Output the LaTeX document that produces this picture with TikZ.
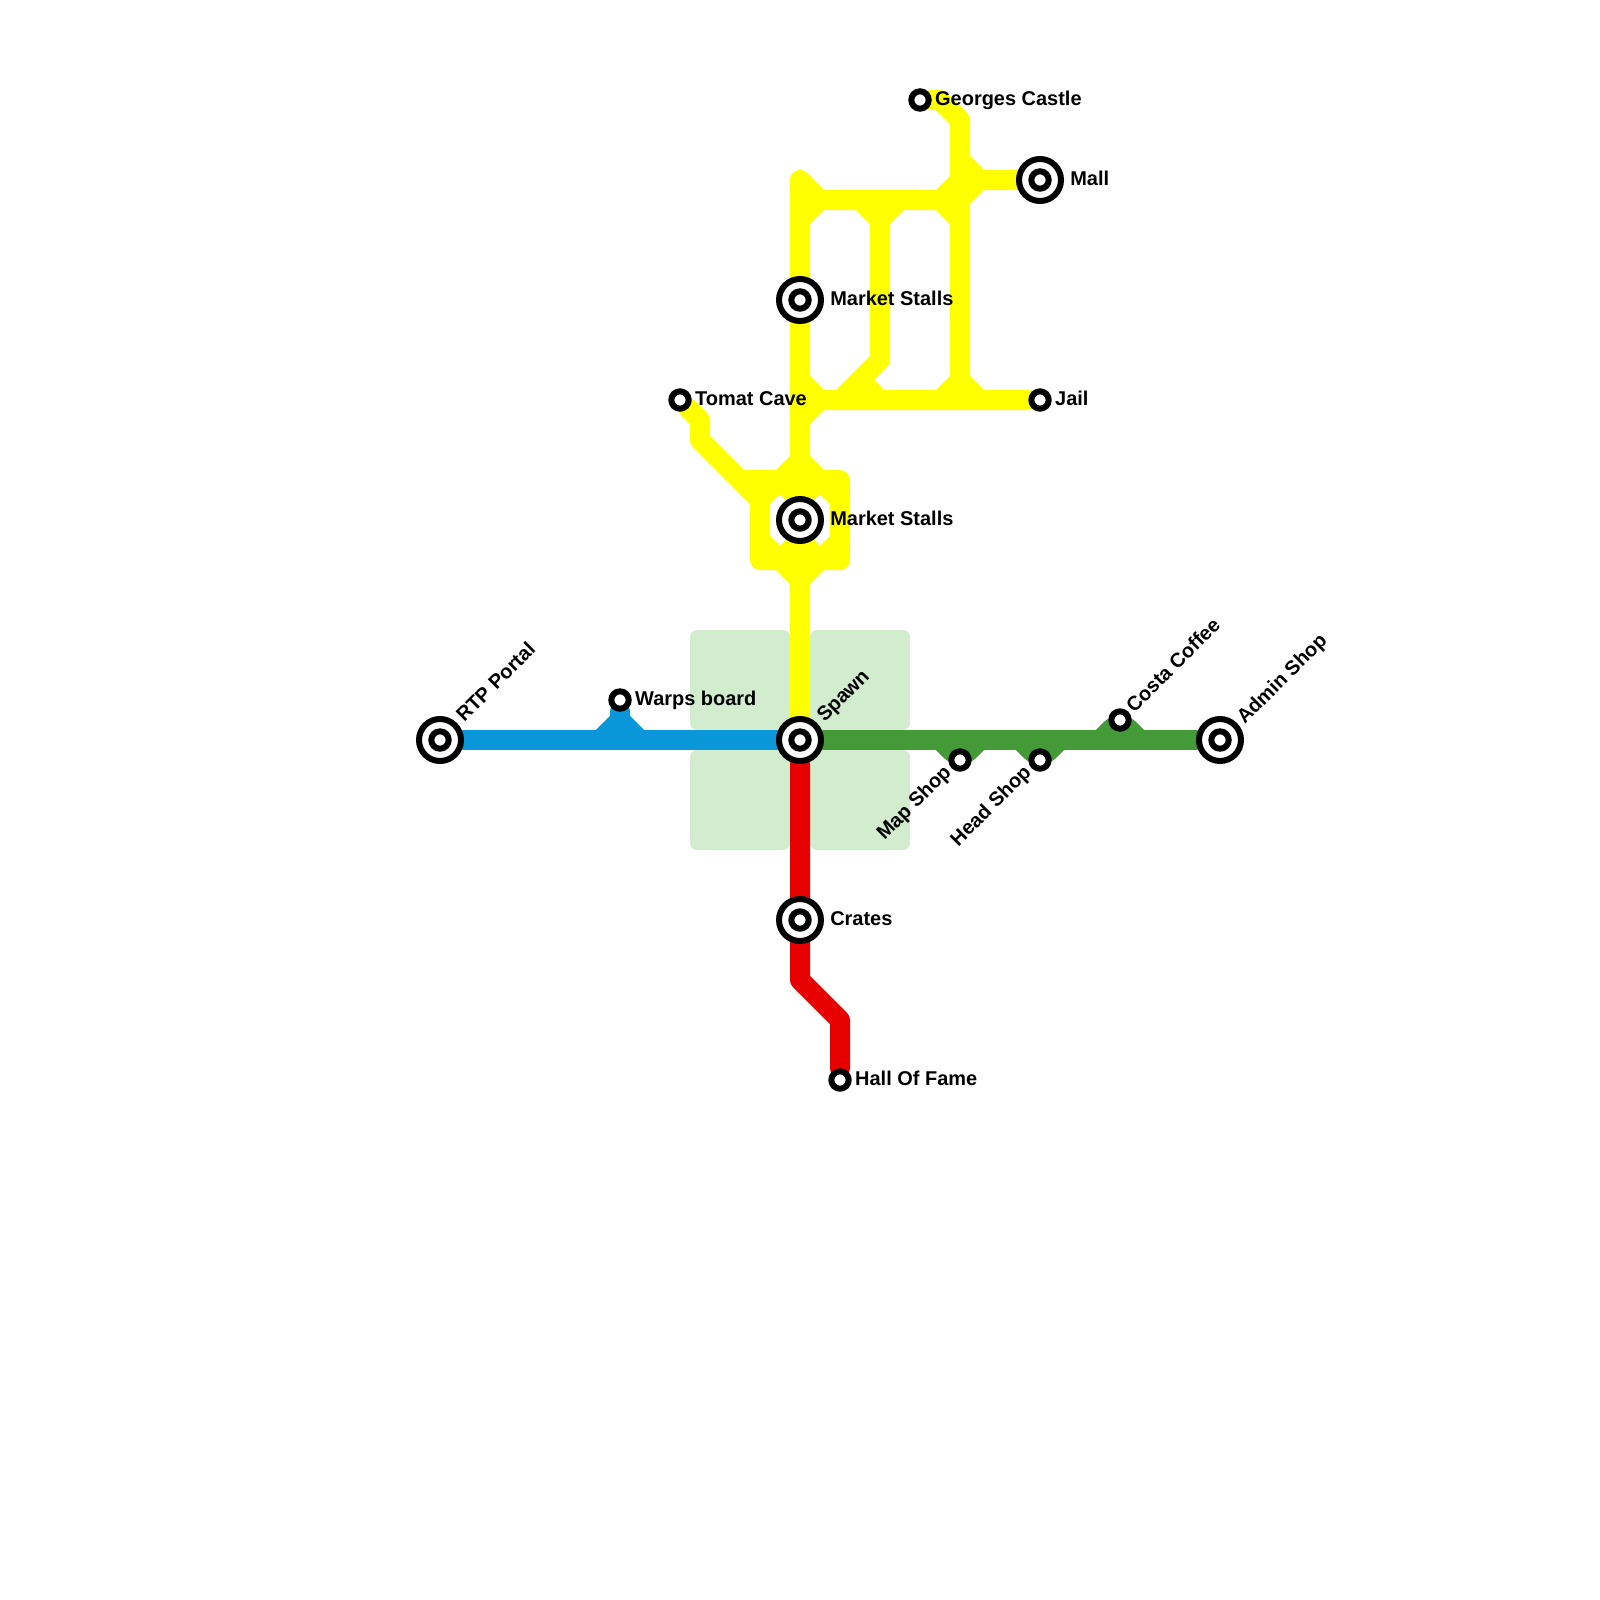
\documentclass[tikz,border=0pt]{standalone}
\usepackage{fontspec}
\setmainfont{Liberation Sans}
\usepackage{tikz}
\usetikzlibrary{positioning,backgrounds}
\definecolor{ylw}{HTML}{FFFF00}
\definecolor{blu}{HTML}{0A97D9}
\definecolor{grn}{HTML}{439A37}
\definecolor{rd}{HTML}{E60000}
\definecolor{blk}{HTML}{D2ECCE}

\begin{document}
\begin{tikzpicture}[
  x=0.5cm,y=-0.5cm,
  stop/.style={circle,draw=black,fill=white,line width=1.5mm,inner sep=0pt,minimum size=4.35mm},
  hub/.style={stop,minimum size=10.5mm,path picture={
    \draw[line width=1.5mm,fill=white] (path picture bounding box.center) circle (2.175mm);}},
  stoptext/.style={font=\fontsize{14.2}{16}\selectfont\bfseries,inner sep=0pt,text height=3.65mm,text depth=0pt,yshift=0.5mm},
  slanttext/.style={font=\fontsize{14.2}{16}\selectfont\bfseries,inner sep=0pt,text height=3.65mm,text depth=0pt,rotate=45},
  block/.style={fill=blk,rounded corners=1.75mm,inner sep=0pt,minimum size=2.5cm},
  route/.style={line width=5mm,line cap=round,line join=round},
]
\useasboundingbox (0,0) rectangle (80,80);
\node[hub] (rtp) at (22,37) {};
\node[stop] (warps) at (31,35) {};
\node[hub] (spawn) at (40,37) {};
\node[hub] (admin) at (61,37) {};
\node[stop] (mapshop) at (48,38) {};
\node[stop] (headshop) at (52,38) {};
\node[stop] (costa) at (56,36) {};
\node[hub] (crates) at (40,46) {};
\node[stop] (fame) at (42,54) {};
\node[hub] (stallslow) at (40,26) {};
\node[hub] (stallsup) at (40,15) {};
\node[stop] (tomat) at (34,20) {};
\node[stop] (georges) at (46,5) {};
\node[hub] (mall) at (52,9) {};
\node[stop] (jail) at (52,20) {};
% labels
\node[stoptext,right=0.8mm of warps] (warpstext) {Warps board};
\node[stoptext,right=1.5mm of crates] (cratestext) {Crates};
\node[stoptext,right=0.8mm of fame] (frametext) {Hall Of Fame};
\node[stoptext,right=1.5mm of stallslow] (lowtext) {Market Stalls};
\node[stoptext,right=1.5mm of stallsup] (uptext) {Market Stalls};
\node[stoptext,right=0.8mm of tomat] (tomattext) {Tomat Cave};
\node[stoptext,right=0.8mm of georges] (georgestext) {Georges Castle};
\node[stoptext,right=1.5mm of mall] (malltext) {Mall};
\node[stoptext,right=0.8mm of jail] (jailtext) {Jail};
\node[slanttext,anchor=west] (rtptext) at (22.95,35.9) {RTP Portal};
\node[slanttext,anchor=west] (spawntext) at (40.97,35.9) {Spawn};
\node[slanttext,anchor=west] (admintext) at (61.97,36) {Admin Shop};
\node[slanttext,anchor=west] (costatext) at (56.45,35.43) {Costa Coffee};
\node[slanttext,anchor=east] (maptext) at (47.35,38.4) {Map Shop};
\node[slanttext,anchor=east] (headtext) at (51.35,38.4) {Head Shop};
% joints
\coordinate (top) at (40,9);
\coordinate (topr) at (41,10);
\coordinate (topb) at (40,11);
\coordinate (midl) at (43,10);
\coordinate (midr) at (45,10);
\coordinate (midb) at (44,11);
\coordinate (midlow) at (44,18);
\coordinate (midfoot) at (42,20);
\coordinate (midfoot2) at (43,19);
\coordinate (midend) at (44,20);
\coordinate (eastl) at (47,10);
\coordinate (easta) at (48,9);
\coordinate (eastb) at (48,11);
\coordinate (eastt) at (48,6);
\coordinate (geo) at (47,5);
\coordinate (mallj) at (49,9);
\coordinate (mallt) at (48,8);
\coordinate (mallb) at (48,10);
\coordinate (easte) at (48,19);
\coordinate (eastfl) at (47,20);
\coordinate (eastfr) at (49,20);
\coordinate (jaila) at (40,19);
\coordinate (jailb) at (41,20);
\coordinate (jailc) at (40,21);
\coordinate (ringa) at (37,24);
\coordinate (ringb) at (39,24);
\coordinate (ringc) at (41,24);
\coordinate (ringd) at (42,24);
\coordinate (ringe) at (42,25);
\coordinate (ringf) at (42,27);
\coordinate (ringg) at (42,28);
\coordinate (ringh) at (41,28);
\coordinate (ringi) at (39,28);
\coordinate (ringj) at (38,28);
\coordinate (ringk) at (38,27);
\coordinate (ringl) at (38,25);
\coordinate (ringn) at (40,23);
\coordinate (ringo) at (40,25);
\coordinate (ringp) at (40,27);
\coordinate (ringq) at (40,29);
\coordinate (toma) at (35,21);
\coordinate (tomb) at (35,22);
\coordinate (warpa) at (31,36);
\coordinate (warpb) at (30,37);
\coordinate (warpc) at (32,37);
\coordinate (mapa) at (47,37);
\coordinate (mapb) at (49,37);
\coordinate (heada) at (51,37);
\coordinate (headb) at (53,37);
\coordinate (costaa) at (55,37);
\coordinate (costab) at (57,37);
\coordinate (redo) at (40,49);
\coordinate (redp) at (42,51);
\begin{scope}[on background layer]
\node[block] (blocka) at (37,34) {};
\node[block] (blockb) at (43,34) {};
\node[block] (blockc) at (37,40) {};
\node[block] (blockd) at (43,40) {};
\begin{scope}[route,draw=ylw]
\draw (spawn) -- (top) -- (topr) -- (eastl) -- (easta);
\draw (topb) -- (topr);
\draw (eastl) -- (eastb);
\draw (georges) -- (geo) -- (eastt) -- (easte);
\draw (mall) -- (mallj) -- (mallt);
\draw (mallj) -- (mallb);
\draw (midl) -- (midb) -- (midlow) -- (midfoot);
\draw (midr) -- (midb);
\draw (midfoot2) -- (midend);
\draw (jaila) -- (jailb) -- (jail);
\draw (jailc) -- (jailb);
\draw (easte) -- (eastfl);
\draw (easte) -- (eastfr);
\draw (tomat) -- (toma) -- (tomb) -- (ringl) -- (ringk) -- (ringj) -- (ringg) -- (ringd) -- (ringa);
\draw (ringl) -- (ringb) -- (ringo) -- (ringc) -- (ringe);
\draw (ringk) -- (ringi) -- (ringp) -- (ringh) -- (ringf);
\draw (ringn) -- (ringb);
\draw (ringn) -- (ringc);
\draw (ringi) -- (ringq) -- (ringh);
\end{scope}
\begin{scope}[route,draw=blu]
\draw (rtp) -- (spawn);
\draw (warps) -- (warpa) -- (warpb);
\draw (warpa) -- (warpc);
\end{scope}
\begin{scope}[route,draw=grn]
\draw (spawn) -- (admin);
\draw (mapa) -- (mapshop) -- (mapb);
\draw (heada) -- (headshop) -- (headb);
\draw (costaa) -- (costa) -- (costab);
\end{scope}
\draw[route,draw=rd] (spawn) -- (redo) -- (redp) -- (fame);
\draw[route,draw=rd] (spawn) -- (crates);
\end{scope}
\end{tikzpicture}
\end{document}
